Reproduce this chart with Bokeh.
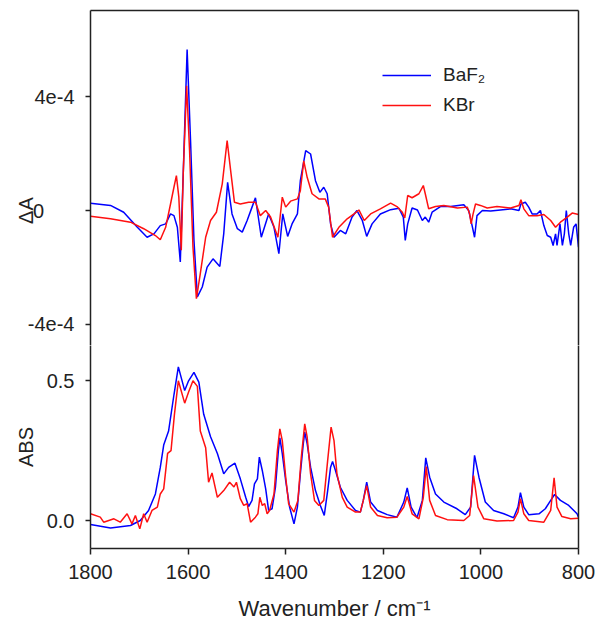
import math
from bokeh.plotting import figure
from bokeh.layouts import column
from bokeh.models import (Range1d, FixedTicker, LinearAxis, Legend, LegendItem,
                          Label, PrintfTickFormatter, GridBox)
from bokeh.embed import file_html
from bokeh.resources import INLINE

# ---------------- data ----------------
# Difference spectra (top panel), delta absorbance
wn_dA_baf2 = [1800, 1759, 1732, 1704, 1684, 1670, 1657, 1646, 1636, 1629, 1622, 1616, 1610,
              1602, 1595, 1588, 1581, 1571, 1561, 1549, 1535, 1527, 1519, 1510, 1499, 1489,
              1479, 1469, 1462, 1450, 1435, 1424, 1414, 1406, 1396, 1387, 1376, 1370, 1359,
              1349, 1339, 1330, 1322, 1315, 1308, 1301, 1288, 1277, 1264, 1254, 1243, 1234,
              1223, 1206, 1185, 1168, 1159, 1155, 1150, 1141, 1130, 1120, 1114, 1107, 1100,
              1083, 1062, 1035, 1025, 1018, 1013, 1008, 997, 980, 960, 939, 922, 918, 909,
              902, 895, 885, 878, 871, 864, 857, 852, 847, 844, 838, 833, 829, 825, 820, 816,
              810, 805, 800]
dA_baf2 = [2.6e-5, 1.8e-5, -0.6e-5, -5.9e-5, -9.4e-5, -8.2e-5, -5.3e-5, -4.7e-5, -1.2e-5,
           -1.8e-5, -5.9e-5, -1.81e-4, 1.29e-4, 5.67e-4, 2.46e-4, -1.05e-4, -3.04e-4,
           -2.69e-4, -1.99e-4, -1.70e-4, -1.97e-4, -8.2e-5, 9.9e-5, -1.2e-5, -6.4e-5,
           -7.6e-5, -3.5e-5, 1.2e-5, 4.5e-5, -9.4e-5, -1.2e-5, -5.9e-5, -1.52e-4, -1.2e-5,
           -9.1e-5, -4.7e-5, -1.2e-5, 1.05e-4, 2.11e-4, 1.99e-4, 1.05e-4, 6.4e-5, 8.2e-5,
           5.9e-5, -4.7e-5, -9.4e-5, -7.0e-5, -8.2e-5, -2.3e-5, 0.0, -3.5e-5, -9.1e-5,
           -4.7e-5, -1.2e-5, 0.3e-5, 0.8e-5, -2.3e-5, -1.05e-4, -4.7e-5, 0.9e-5, 0.2e-5,
           -3.5e-5, -2.3e-5, -4.1e-5, -0.6e-5, 1.4e-5, 1.4e-5, 2.0e-5, 0.0, -5.3e-5,
           -9.4e-5, -1.8e-5, 0.0, -0.2e-5, 0.2e-5, 0.6e-5, 0.0, 2.3e-5, 2.9e-5, 1.2e-5,
           -1.2e-5, -1.2e-5, 0.0, -5.3e-5, -8.8e-5, -9.4e-5, -1.23e-4, -8.2e-5, -1.23e-4,
           -4.7e-5, -1.23e-4, -8.2e-5, 0.0, -8.2e-5, -1.23e-4, -5.9e-5, -4.7e-5, -1.29e-4]

wn_dA_kbr = [1800, 1759, 1718, 1691, 1667, 1657, 1646, 1636, 1629, 1624, 1619, 1614, 1610,
             1603, 1597, 1590, 1583, 1575, 1564, 1554, 1542, 1530, 1520, 1512, 1505, 1493,
             1476, 1462, 1452, 1441, 1431, 1421, 1416, 1407, 1400, 1390, 1376, 1370, 1363,
             1356, 1346, 1332, 1319, 1312, 1304, 1291, 1274, 1260, 1250, 1239, 1226, 1206,
             1185, 1172, 1161, 1156, 1150, 1141, 1127, 1118, 1114, 1107, 1093, 1076, 1048,
             1028, 1023, 1020, 1016, 1011, 1001, 987, 967, 939, 922, 918, 912, 902, 885,
             871, 857, 847, 837, 823, 813, 800]
dA_kbr = [-2.0e-5, -2.9e-5, -4.1e-5, -6.4e-5, -8.8e-5, -1.03e-4, -5.9e-5, 2.3e-5, 8.2e-5,
          1.23e-4, 4.7e-5, -1.40e-4, 1.29e-4, 4.39e-4, 2.11e-4, -1.29e-4, -3.10e-4,
          -2.22e-4, -9.4e-5, -3.5e-5, -0.6e-5, 9.4e-5, 2.46e-4, 1.29e-4, 2.9e-5, 2.3e-5,
          2.9e-5, 2.9e-5, -1.8e-5, 0.0, -2.3e-5, -7.0e-5, -9.4e-5, 4.7e-5, 1.2e-5, 3.3e-5,
          4.1e-5, 7.0e-5, 1.75e-4, 1.17e-4, 5.9e-5, 4.1e-5, 4.1e-5, 1.2e-5, -9.4e-5,
          -5.9e-5, -2.9e-5, -1.2e-5, 0.2e-5, -3.5e-5, -1.2e-5, 0.6e-5, 2.6e-5, 1.4e-5,
          -0.6e-5, -2.6e-5, 5.3e-5, 4.5e-5, 5.9e-5, 8.8e-5, 5.9e-5, 0.6e-5, 1.4e-5, 1.8e-5,
          0.9e-5, 1.2e-5, -1.2e-5, -4.7e-5, -1.2e-5, 2.3e-5, 1.8e-5, 0.9e-5, 1.4e-5, 0.9e-5,
          1.8e-5, 3.8e-5, 0.6e-5, -1.8e-5, -1.8e-5, -1.4e-5, -3.5e-5, -5.9e-5, -4.1e-5,
          -2.3e-5, -0.9e-5, -1.4e-5]

# Absorbance spectra (bottom panel)
wn_abs_baf2 = [1800, 1759, 1718, 1698, 1681, 1667, 1657, 1650, 1640, 1629, 1620, 1607, 1599,
               1588, 1578, 1568, 1554, 1540, 1527, 1517, 1504, 1493, 1482, 1476, 1469, 1464,
               1458, 1454, 1448, 1441, 1435, 1428, 1421, 1415, 1412, 1407, 1400, 1392, 1383,
               1376, 1370, 1364, 1361, 1356, 1349, 1339, 1329, 1321, 1314, 1308, 1304, 1298,
               1288, 1274, 1257, 1247, 1241, 1234, 1226, 1212, 1192, 1172, 1158, 1151, 1143,
               1131, 1120, 1113, 1105, 1093, 1076, 1049, 1032, 1021, 1013, 1004, 991, 974,
               953, 933, 924, 919, 912, 902, 881, 868, 857, 849, 837, 820, 803, 800]
abs_baf2 = [-0.014, -0.027, -0.018, 0.0, 0.036, 0.095, 0.19, 0.27, 0.32, 0.45, 0.55, 0.465,
            0.50, 0.53, 0.495, 0.38, 0.30, 0.24, 0.167, 0.19, 0.205, 0.149, 0.083, 0.050,
            0.072, 0.131, 0.149, 0.227, 0.179, 0.113, 0.036, 0.042, 0.119, 0.25, 0.296,
            0.239, 0.143, 0.048, -0.012, 0.048, 0.167, 0.274, 0.316, 0.274, 0.191, 0.107,
            0.054, 0.018, 0.107, 0.191, 0.211, 0.179, 0.119, 0.072, 0.036, 0.030, 0.072,
            0.137, 0.066, 0.036, 0.021, 0.012, 0.066, 0.117, 0.048, 0.01, 0.072, 0.224,
            0.155, 0.095, 0.066, 0.042, 0.021, 0.048, 0.233, 0.155, 0.066, 0.036, 0.024,
            0.01, 0.048, 0.10, 0.048, 0.021, 0.024, 0.042, 0.072, 0.093, 0.072, 0.054,
            0.024, 0.012]

wn_abs_kbr = [1800, 1780, 1773, 1752, 1739, 1725, 1715, 1708, 1699, 1691, 1684, 1674, 1663,
              1657, 1650, 1642, 1635, 1628, 1620, 1607, 1599, 1590, 1581, 1575, 1564, 1558,
              1551, 1540, 1527, 1515, 1506, 1501, 1493, 1486, 1479, 1472, 1462, 1457, 1453,
              1448, 1443, 1438, 1433, 1424, 1417, 1412, 1407, 1400, 1394, 1383, 1375, 1368,
              1361, 1356, 1349, 1341, 1332, 1322, 1314, 1307, 1301, 1295, 1284, 1274, 1257,
              1247, 1241, 1234, 1226, 1212, 1192, 1172, 1158, 1151, 1141, 1127, 1118, 1112,
              1105, 1093, 1069, 1035, 1023, 1015, 1006, 994, 967, 933, 924, 919, 912, 902,
              871, 857, 850, 844, 834, 816, 800]
abs_kbr = [0.024, 0.012, -0.006, 0.006, -0.006, 0.024, -0.012, 0.018, -0.03, 0.024, -0.006,
           0.036, 0.048, 0.095, 0.113, 0.24, 0.25, 0.38, 0.50, 0.42, 0.46, 0.50, 0.48, 0.32,
           0.26, 0.137, 0.17, 0.083, 0.107, 0.137, 0.12, 0.137, 0.078, 0.054, 0.060, -0.006,
           0.012, 0.024, 0.083, 0.054, 0.060, 0.024, 0.036, 0.095, 0.25, 0.328, 0.286, 0.155,
           0.060, 0.030, 0.072, 0.227, 0.346, 0.298, 0.167, 0.072, 0.054, 0.072, 0.215,
           0.334, 0.286, 0.167, 0.083, 0.048, 0.030, 0.030, 0.072, 0.125, 0.048, 0.018, 0.01,
           0.012, 0.048, 0.086, 0.024, 0.006, 0.083, 0.193, 0.072, 0.018, 0.003, 0.0, 0.018,
           0.161, 0.048, 0.006, -0.002, 0.0, 0.03, 0.078, 0.024, 0.0, -0.006, 0.036, 0.153,
           0.048, 0.014, 0.006, 0.008]

x_ticks = [1800, 1600, 1400, 1200, 1000, 800]
dA_ticks = [-4e-4, 4e-4]
dA_tick_labels = ["-4e-4", "4e-4"]
dA_zero_tick = [0.0]
dA_zero_label = "0"
abs_ticks = [0.0, 0.5]
series_names = ["BaF\u2082", "KBr"]
series_colors = ["#0000ff", "#ff1010"]

# ---------------- styling ----------------
FONT = "Liberation Sans"
INK = "#222222"
W = 596
TOP_H = 345
BOT_H = 624


def style_common(p):
    p.xgrid.visible = False
    p.ygrid.visible = False
    p.outline_line_color = None
    p.background_fill_color = "white"
    p.border_fill_color = "white"


def style_yaxis(ax):
    ax.axis_line_color = INK
    ax.axis_line_width = 1.5
    ax.major_tick_line_color = INK
    ax.major_tick_line_width = 1.5
    ax.major_tick_out = 5
    ax.major_tick_in = 0
    ax.minor_tick_line_color = None
    ax.major_label_text_font = FONT
    ax.major_label_text_font_size = "20px"
    ax.major_label_text_color = INK
    ax.major_label_standoff = 11


def frame_edge(p, side):
    # an axis used only for its line, so that the plot frame is boxed
    ax = LinearAxis(major_tick_line_color=None, minor_tick_line_color=None,
                    major_label_text_font_size="1px", major_label_text_color=None,
                    major_label_standoff=0, major_tick_out=0, major_tick_in=0,
                    minor_tick_out=0, minor_tick_in=0,
                    axis_line_color=INK, axis_line_width=1.5)
    p.add_layout(ax, side)


dA_range = Range1d(-4.75e-4, 7.04e-4)

# ---------------- top panel ----------------
top = figure(width=W, height=TOP_H, x_range=Range1d(1800, 800),
             y_range=dA_range, output_backend="svg",
             toolbar_location=None, x_axis_location=None,
             min_border_left=90, min_border_right=18, min_border_top=10,
             min_border_bottom=0)
style_common(top)
ya = top.yaxis[0]
style_yaxis(ya)
ya.ticker = FixedTicker(ticks=dA_ticks, minor_ticks=dA_zero_tick)
ya.major_label_overrides = {t: l for t, l in zip(dA_ticks, dA_tick_labels)}
ya.minor_tick_line_color = INK
ya.minor_tick_line_width = 1.5
ya.minor_tick_out = 5
ya.minor_tick_in = 0
frame_edge(top, "above")
frame_edge(top, "right")

r_b = top.line(wn_dA_baf2, dA_baf2, line_color=series_colors[0], line_width=1.5)
r_k = top.line(wn_dA_kbr, dA_kbr, line_color=series_colors[1], line_width=1.5)

legend = Legend(items=[LegendItem(label=series_names[0], renderers=[r_b]),
                       LegendItem(label=series_names[1], renderers=[r_k])],
                location=(292, 228), padding=0, margin=0, spacing=6,
                glyph_width=49, glyph_height=24, label_height=24, label_standoff=12,
                label_text_font=FONT, label_text_font_size="19px", label_text_color=INK,
                border_line_color=None, background_fill_alpha=0)
top.add_layout(legend)

# ------- transparent overlay carrying the delta-A title and the zero label -------
ovl = figure(width=W, height=TOP_H, x_range=Range1d(0, 1), y_range=dA_range,
             output_backend="svg", toolbar_location=None,
             x_axis_location=None, y_axis_location=None,
             min_border_left=0, min_border_right=0, min_border_top=10, min_border_bottom=0)
ovl.xgrid.visible = False
ovl.ygrid.visible = False
ovl.outline_line_color = None
ovl.background_fill_color = None
ovl.border_fill_color = None
ovl.add_layout(Label(x=25, y=dA_zero_tick[0], x_units="screen", y_units="data",
                     text="\u0394A", angle=math.pi / 2, text_align="center",
                     text_baseline="middle", text_font=FONT, text_font_size="20px",
                     text_color=INK))
ovl.add_layout(Label(x=38, y=dA_zero_tick[0], x_units="screen", y_units="data",
                     text=dA_zero_label, text_align="center", text_baseline="middle",
                     text_font=FONT, text_font_size="20px", text_color=INK))

# ---------------- bottom panel ----------------
bot = figure(width=W, height=BOT_H - TOP_H, x_range=Range1d(1800, 800),
             y_range=Range1d(-0.1002, 0.6263), output_backend="svg",
             toolbar_location=None,
             min_border_left=90, min_border_right=18, min_border_top=0,
             min_border_bottom=BOT_H - 548)
style_common(bot)
yb = bot.yaxis[0]
style_yaxis(yb)
yb.ticker = FixedTicker(ticks=abs_ticks)
yb.formatter = PrintfTickFormatter(format="%.1f")
yb.axis_label = "ABS"
yb.axis_label_text_font = FONT
yb.axis_label_text_font_size = "20px"
yb.axis_label_text_font_style = "normal"
yb.axis_label_text_color = INK
yb.axis_label_standoff = 7

xb = bot.xaxis[0]
xb.ticker = FixedTicker(ticks=x_ticks)
xb.axis_line_color = INK
xb.axis_line_width = 1.5
xb.major_tick_line_color = INK
xb.major_tick_line_width = 1.5
xb.major_tick_out = 6
xb.major_tick_in = 0
xb.minor_tick_line_color = None
xb.major_label_text_font = FONT
xb.major_label_text_font_size = "20px"
xb.major_label_text_color = INK
xb.major_label_standoff = 10
xb.axis_label = "Wavenumber / cm\u207b\u00b9"
xb.axis_label_text_font = FONT
xb.axis_label_text_font_size = "22px"
xb.axis_label_text_font_style = "normal"
xb.axis_label_text_color = INK
xb.axis_label_standoff = 14
frame_edge(bot, "right")

bot.line(wn_abs_baf2, abs_baf2, line_color=series_colors[0], line_width=1.5)
bot.line(wn_abs_kbr, abs_kbr, line_color=series_colors[1], line_width=1.5)

# the overlay is wrapped in its own column so that the grid does not align its frame
layout = GridBox(children=[(top, 0, 0), (column(ovl, spacing=0), 0, 0), (bot, 1, 0)],
                 spacing=0)
open("out.html", "w").write(file_html(layout, INLINE))
